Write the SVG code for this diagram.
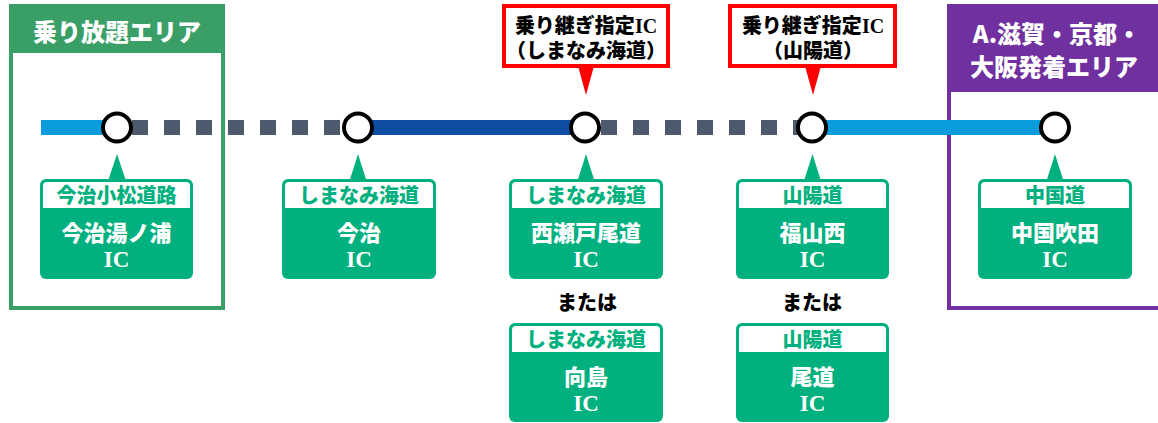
<svg xmlns="http://www.w3.org/2000/svg" width="1158" height="423" viewBox="0 0 1158 423">
<style>
text{font-family:"Noto Sans CJK JP","Noto Sans",sans-serif;font-weight:900;text-anchor:middle}
.ic{font-family:"Liberation Serif","Noto Sans CJK JP",serif;font-weight:bold}
.hdr{fill:#fff;font-size:24px}
.ttl{fill:#00b07e;font-size:20px}
.main{fill:#fff;font-size:22px}
.mic{fill:#fff;font-size:23px}
.call{fill:#000;font-size:20px}
.or{fill:#000;font-size:20px}
.box{fill:#00b07e}
.boxtop{fill:#fff}
.ptr{fill:#00b07e}
.rptr{fill:#ff0000}
.callbox{fill:#fff;stroke:#ff0000;stroke-width:4}
.st{fill:#fff;stroke:#000;stroke-width:4}
</style>
<rect width="1158" height="423" fill="#fff"/>

<g id="area-free">
<rect x="11" y="6" width="212" height="302" fill="#fff" stroke="#3a9f66" stroke-width="4"/>
<rect x="9" y="4" width="216" height="49" fill="#3a9f66"/>
<text class="hdr" x="117" y="41">乗り放題エリア</text>
</g>

<g id="area-dest">
<rect x="949" y="6" width="230" height="302" fill="#fff" stroke="#7030a0" stroke-width="4"/>
<rect x="947" y="4" width="230" height="88" fill="#7030a0"/>
<text class="hdr" x="1057" y="43">A.滋賀・京都・</text>
<text class="hdr" x="1054" y="76">大阪発着エリア</text>
</g>

<g id="connectors">
<line x1="41" y1="127.5" x2="117" y2="127.5" stroke="#0a9cdc" stroke-width="15"/>
<line x1="132" y1="127.5" x2="352" y2="127.5" stroke="#4d596d" stroke-width="15" stroke-dasharray="16 16"/>
<line x1="358" y1="127.5" x2="585" y2="127.5" stroke="#0d4ea3" stroke-width="15"/>
<line x1="601" y1="127.5" x2="806" y2="127.5" stroke="#4d596d" stroke-width="15" stroke-dasharray="16 16"/>
<line x1="812" y1="127.5" x2="1055" y2="127.5" stroke="#0a9cdc" stroke-width="15"/>
</g>

<g id="callout-1">
<rect class="callbox" x="504" y="6" width="164" height="60"/>
<polygon class="rptr" points="578,66 594,66 586,95"/>
<text class="call" x="586" y="33">乗り継ぎ指定<tspan class="ic">IC</tspan></text>
<text class="call" x="586" y="58">（しまなみ海道）</text>
</g>

<g id="callout-2">
<rect class="callbox" x="730" y="6" width="165" height="60"/>
<polygon class="rptr" points="805,66 821,66 813,95"/>
<text class="call" x="813" y="33">乗り継ぎ指定<tspan class="ic">IC</tspan></text>
<text class="call" x="813" y="58">（山陽道）</text>
</g>

<g id="node-imabari-yunoura">
<circle class="st" cx="117" cy="127.5" r="14"/>
<polygon class="ptr" points="117,154 108,181 126,181"/>
<rect class="box" x="40" y="179" width="153" height="100" rx="6"/>
<path class="boxtop" d="M43,208 V186 Q43,182 47,182 H186 Q190,182 190,186 V208 Z"/>
<text class="ttl" x="116.5" y="203">今治小松道路</text>
<text class="main" x="116.5" y="241">今治湯ノ浦</text>
<text class="mic ic" x="116.5" y="267">IC</text>
</g>

<g id="node-imabari">
<circle class="st" cx="358" cy="127.5" r="14"/>
<polygon class="ptr" points="358,154 349.5,181 366.5,181"/>
<rect class="box" x="282" y="179" width="154" height="100" rx="6"/>
<path class="boxtop" d="M285,208 V186 Q285,182 289,182 H429 Q433,182 433,186 V208 Z"/>
<text class="ttl" x="359" y="203">しまなみ海道</text>
<text class="main" x="359" y="241">今治</text>
<text class="mic ic" x="359" y="267">IC</text>
</g>

<g id="node-nishiseto-onomichi">
<circle class="st" cx="585" cy="127.5" r="14"/>
<polygon class="ptr" points="586,154 577.5,181 594.5,181"/>
<rect class="box" x="509" y="179" width="154" height="100" rx="6"/>
<path class="boxtop" d="M512,208 V186 Q512,182 516,182 H656 Q660,182 660,186 V208 Z"/>
<text class="ttl" x="586" y="203">しまなみ海道</text>
<text class="main" x="586" y="241">西瀬戸尾道</text>
<text class="mic ic" x="586" y="267">IC</text>
</g>
<text class="or" x="587" y="310">または</text>
<g id="node-mukaishima">
<rect class="box" x="509" y="323" width="154" height="99" rx="6"/>
<path class="boxtop" d="M512,352 V330 Q512,326 516,326 H656 Q660,326 660,330 V352 Z"/>
<text class="ttl" x="586" y="347">しまなみ海道</text>
<text class="main" x="586" y="385">向島</text>
<text class="mic ic" x="586" y="411">IC</text>
</g>

<g id="node-fukuyama-nishi">
<circle class="st" cx="812" cy="127.5" r="14"/>
<polygon class="ptr" points="812.5,154 804,181 821,181"/>
<rect class="box" x="736" y="179" width="153" height="100" rx="6"/>
<path class="boxtop" d="M739,208 V186 Q739,182 743,182 H882 Q886,182 886,186 V208 Z"/>
<text class="ttl" x="812.5" y="203">山陽道</text>
<text class="main" x="812.5" y="241">福山西</text>
<text class="mic ic" x="812.5" y="267">IC</text>
</g>
<text class="or" x="812" y="310">または</text>
<g id="node-onomichi">
<rect class="box" x="736" y="323" width="153" height="99" rx="6"/>
<path class="boxtop" d="M739,352 V330 Q739,326 743,326 H882 Q886,326 886,330 V352 Z"/>
<text class="ttl" x="812.5" y="347">山陽道</text>
<text class="main" x="812.5" y="385">尾道</text>
<text class="mic ic" x="812.5" y="411">IC</text>
</g>

<g id="node-chugoku-suita">
<circle class="st" cx="1055" cy="127.5" r="14"/>
<polygon class="ptr" points="1055,154 1046.5,181 1063.5,181"/>
<rect class="box" x="978" y="179" width="154" height="100" rx="6"/>
<path class="boxtop" d="M981,208 V186 Q981,182 985,182 H1125 Q1129,182 1129,186 V208 Z"/>
<text class="ttl" x="1055" y="203">中国道</text>
<text class="main" x="1055" y="241">中国吹田</text>
<text class="mic ic" x="1055" y="267">IC</text>
</g>
</svg>
